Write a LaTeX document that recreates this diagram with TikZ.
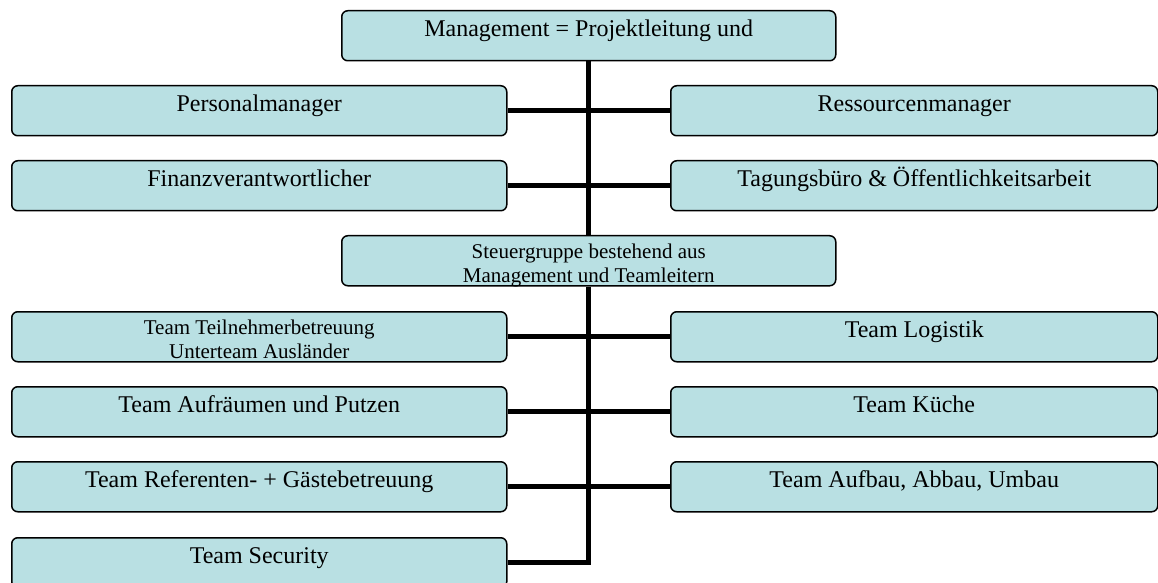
\documentclass[tikz,border=0pt]{standalone}
\usepackage{fontspec}
\setmainfont{Liberation Serif}
\definecolor{boxfill}{RGB}{185,224,227}
\newcommand{\bigtxt}[2]{\parbox[t][25pt][t]{#1}{\centering\fontsize{12}{12.5}\selectfont\rule{0pt}{13pt}#2}}
\newcommand{\smalltxt}[2]{\parbox[t][25pt][t]{#1}{\centering\fontsize{10.5}{12}\selectfont\rule{0pt}{11.5pt}#2}}
\begin{document}
\begin{tikzpicture}[x=0.5pt,y=-0.5pt,
  box/.style={draw=black, line width=0.75pt, fill=boxfill, rounded corners=3pt, inner sep=0pt, anchor=north west},
  link/.style={line width=2.5pt, line join=miter, draw=black}]
\useasboundingbox (0,0) rectangle (1158,583);
\clip (0,0) rectangle (1158,583);
\node[box] (mgmt) at (341,10) {\bigtxt{247pt}{Management = Projektleitung und}};
\node[box] (pm) at (11,85) {\bigtxt{247.5pt}{Personalmanager}};
\node[box] (rm) at (670,85) {\bigtxt{243.5pt}{Ressourcenmanager}};
\node[box] (fin) at (11,160) {\bigtxt{247.5pt}{Finanzverantwortlicher}};
\node[box] (tb) at (670,160) {\bigtxt{243.5pt}{Tagungsbüro \& Öffentlichkeitsarbeit}};
\node[box] (sg) at (341,235) {\smalltxt{247pt}{Steuergruppe bestehend aus\\Management und Teamleitern}};
\node[box] (tn) at (11,311) {\smalltxt{247.5pt}{Team Teilnehmerbetreuung\\Unterteam Ausländer}};
\node[box] (lo) at (670,311) {\bigtxt{243.5pt}{Team Logistik}};
\node[box] (ap) at (11,386) {\bigtxt{247.5pt}{Team Aufräumen und Putzen}};
\node[box] (ku) at (670,386) {\bigtxt{243.5pt}{Team Küche}};
\node[box] (rg) at (11,461) {\bigtxt{247.5pt}{Team Referenten- + Gästebetreuung}};
\node[box] (ab) at (670,461) {\bigtxt{243.5pt}{Team Aufbau, Abbau, Umbau}};
\node[box] (se) at (11,537) {\bigtxt{247.5pt}{Team Security}};
\draw[link] (mgmt.south) -- (sg.north);
\draw[link] (sg.south) |- (se.east);
\draw[link] (pm.east) -- (rm.west);
\draw[link] (fin.east) -- (tb.west);
\draw[link] (tn.east) -- (lo.west);
\draw[link] (ap.east) -- (ku.west);
\draw[link] (rg.east) -- (ab.west);
\end{tikzpicture}
\end{document}
